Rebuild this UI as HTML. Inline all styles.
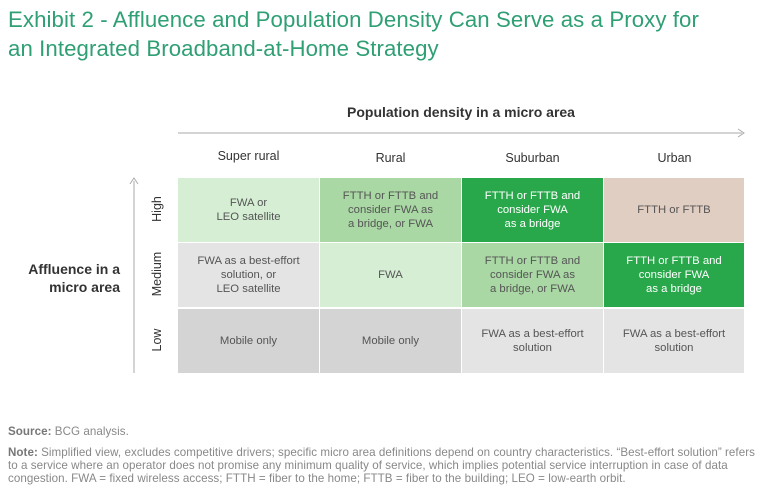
<!DOCTYPE html>
<html><head><meta charset="utf-8"><style>
body{margin:0;width:768px;height:501px;background:#fff;font-family:"Liberation Sans",sans-serif;position:relative;overflow:hidden}
.a{position:absolute}
.t{left:8px;top:5px;font-size:22.2px;line-height:29px;color:#2f9f74;letter-spacing:0.1px}
.cell{position:absolute;width:141px;height:64px;display:flex;align-items:center;justify-content:center;text-align:center;font-size:11.3px;line-height:14px;color:#555}
.hd{position:absolute;width:141px;text-align:center;font-size:12.5px;color:#333;top:151px}
.rl{position:absolute;font-size:12.5px;color:#333;transform:rotate(-90deg);transform-origin:center;width:70px;text-align:center}
.ft{left:8px;font-size:11.6px;color:#888;line-height:13px;white-space:nowrap;letter-spacing:0.05px}
.ft b{color:#777}
</style></head><body>
<div class="a t">Exhibit 2 - Affluence and Population Density Can Serve as a Proxy for<br>an Integrated Broadband-at-Home Strategy</div>
<div class="a" style="left:178px;width:566px;top:104px;text-align:center;font-size:14px;font-weight:bold;color:#333">Population density in a micro area</div>
<svg class="a" style="left:0;top:0" width="768" height="501">
<line x1="178" y1="133" x2="742" y2="133" stroke="#aaa" stroke-width="1"/><path d="M738,129 L744,133 L738,137" fill="none" stroke="#aaa"/>
<line x1="134" y1="373" x2="134" y2="181" stroke="#aaa" stroke-width="1"/><path d="M130,184 L134,178 L138,184" fill="none" stroke="#aaa"/>
</svg>
<div class="a" style="left:0;width:120px;top:260px;text-align:right;font-size:14px;font-weight:bold;color:#333;line-height:18px">Affluence in a<br>micro area</div>
<div class="hd" style="left:178px;top:149px">Super rural</div>
<div class="hd" style="left:320px">Rural</div>
<div class="hd" style="left:462px">Suburban</div>
<div class="hd" style="left:604px">Urban</div>
<div class="rl" style="left:122px;top:202px">High</div>
<div class="rl" style="left:122px;top:267px">Medium</div>
<div class="rl" style="left:122px;top:333px">Low</div>
<div class="cell" style="left:178px;top:178px;background:#d6efd4">FWA or<br>LEO satellite</div>
<div class="cell" style="left:320px;top:178px;background:#a9d8a4">FTTH or FTTB and<br>consider FWA as<br>a bridge, or FWA</div>
<div class="cell" style="left:462px;top:178px;background:#29a84b;color:#fff">FTTH or FTTB and<br>consider FWA<br>as a bridge</div>
<div class="cell" style="left:604px;top:178px;width:140px;background:#e1cec2">FTTH or FTTB</div>
<div class="cell" style="left:178px;top:243px;background:#e4e4e4">FWA as a best-effort<br>solution, or<br>LEO satellite</div>
<div class="cell" style="left:320px;top:243px;background:#d6efd4">FWA</div>
<div class="cell" style="left:462px;top:243px;background:#a9d8a4">FTTH or FTTB and<br>consider FWA as<br>a bridge, or FWA</div>
<div class="cell" style="left:604px;top:243px;width:140px;background:#29a84b;color:#fff">FTTH or FTTB and<br>consider FWA<br>as a bridge</div>
<div class="cell" style="left:178px;top:309px;background:#d4d4d4">Mobile only</div>
<div class="cell" style="left:320px;top:309px;background:#d4d4d4">Mobile only</div>
<div class="cell" style="left:462px;top:309px;background:#e4e4e4">FWA as a best-effort<br>solution</div>
<div class="cell" style="left:604px;top:309px;width:140px;background:#e4e4e4">FWA as a best-effort<br>solution</div>
<div class="a ft" style="top:425px"><b>Source:</b> BCG analysis.</div>
<div class="a ft" style="top:446px"><b>Note:</b> Simplified view, excludes competitive drivers; specific micro area definitions depend on country characteristics. “Best-effort solution” refers<br>to a service where an operator does not promise any minimum quality of service, which implies potential service interruption in case of data<br>congestion. FWA = fixed wireless access; FTTH = fiber to the home; FTTB = fiber to the building; LEO = low-earth orbit.</div>
</body></html>
